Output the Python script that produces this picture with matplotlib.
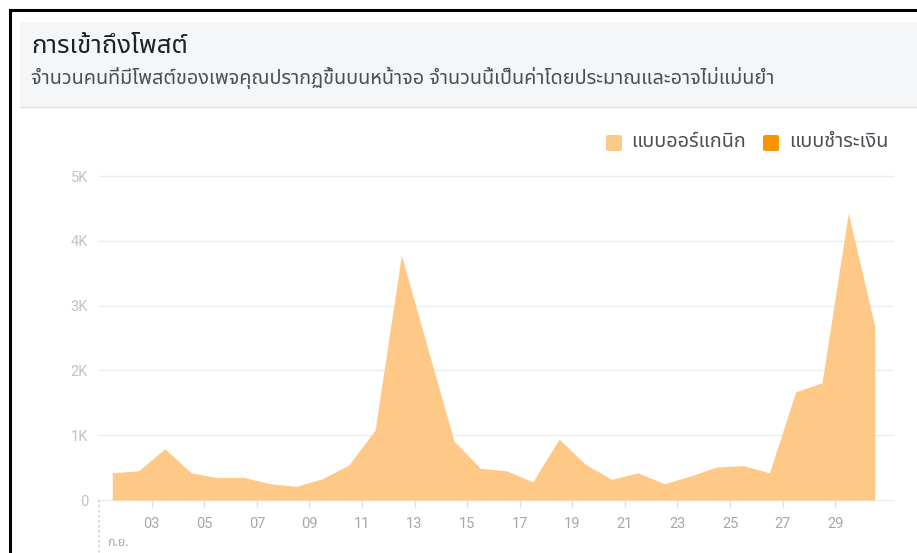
import matplotlib
matplotlib.use('Agg')
import numpy as np
import matplotlib.pyplot as plt
from matplotlib.patches import Rectangle, FancyBboxPatch
from matplotlib.lines import Line2D

plt.rcParams['font.family'] = ['Noto Sans Thai', 'DejaVu Sans']

# reach per day (organic), days 1..30
days = np.arange(1, 31)
organic = [420, 450, 790, 420, 345, 350, 250, 210, 330, 540,
           1080, 3780, 2340, 910, 490, 450, 280, 940, 550, 320,
           420, 250, 370, 510, 530, 420, 1670, 1810, 4430, 2690]
tick_days = [3, 5, 7, 9, 11, 13, 15, 17, 19, 21, 23, 25, 27, 29]
tick_labels = ['%02d' % d for d in tick_days]
y_ticks = [0, 1000, 2000, 3000, 4000, 5000]
y_labels = ['0', '1K', '2K', '3K', '4K', '5K']

title = 'การเข้าถึงโพสต์'
subtitle = 'จำนวนคนที่มีโพสต์ของเพจคุณปรากฏขึ้นบนหน้าจอ จำนวนนี้เป็นค่าโดยประมาณและอาจไม่แม่นยำ'
legend_names = ['แบบออร์แกนิก', 'แบบชำระเงิน']
legend_colors = ['#fec887', '#f79400']

W, H = 917, 553
fig = plt.figure(figsize=(W / 100, H / 100), dpi=100)

def fx(x):
    return x / W

def fy(y):
    return 1 - y / H

# header panel
fig.patches.append(Rectangle((fx(20), fy(107)), 1, fy(22) - fy(107),
                             transform=fig.transFigure, facecolor='#f5f6f7',
                             edgecolor='none', zorder=0))
fig.lines.append(Line2D([fx(20), 1], [fy(107), fy(107)], transform=fig.transFigure,
                        color='#dddfe2', lw=1))
fig.text(fx(31), fy(47), title, fontsize=18.5, color='#1d2129', va='center', ha='left')
fig.text(fx(31), fy(78), subtitle, fontsize=14.3, color='#4b4f56', va='center', ha='left')

# outer black frame
fig.patches.append(Rectangle((fx(10), -0.1), 1.2, fy(10) + 0.1,
                             transform=fig.transFigure, facecolor='none',
                             edgecolor='black', lw=2.2, zorder=5))

# legend
lx = [606, 763]
tx = [631, 789]
for i in range(2):
    fig.patches.append(FancyBboxPatch((fx(lx[i]), fy(151)), fx(16), fy(135) - fy(151),
                                      boxstyle='round,pad=0,rounding_size=0.003',
                                      transform=fig.transFigure,
                                      facecolor=legend_colors[i], edgecolor='none'))
    fig.text(fx(tx[i]), fy(142), legend_names[i], fontsize=14.3, color='#4b4f56',
             va='center', ha='left')

# plot area
x0, x1 = 99.1, 893
ax = fig.add_axes([fx(x0), fy(500), fx(x1 - x0), fy(176) - fy(500)])
ax.set_xlim(1, 31.2)
ax.set_ylim(0, 5000)
ax.fill_between(days + 0.5, organic, color='#fec887', lw=0, zorder=2)

for v in y_ticks:
    ax.axhline(v, color='#ebedf0', lw=1, zorder=1, clip_on=False)
for s in ax.spines.values():
    s.set_visible(False)

ax.set_yticks(y_ticks)
ax.set_yticklabels(y_labels)
ax.set_xticks(tick_days)
ax.set_xticklabels(tick_labels)
ax.tick_params(axis='y', length=0, pad=8, labelsize=10.5, labelcolor='#bec3c9')
ax.tick_params(axis='x', length=5, width=1, color='#dddfe2', pad=7,
               labelsize=10.5, labelcolor='#a3a7ae')
for lab in ax.get_xticklabels() + ax.get_yticklabels():
    lab.set_family(['Roboto', 'DejaVu Sans'])

# month boundary marker
ax.plot([1, 1], [0, -900], color='#d0d3d8', lw=1.2, ls=(0, (1.5, 1.5)), clip_on=False)
fig.text(fx(107), fy(536), 'ก.ย.', fontsize=9, color='#a3a7ae', va='top', ha='left')

fig.savefig('out.png', dpi=100)
